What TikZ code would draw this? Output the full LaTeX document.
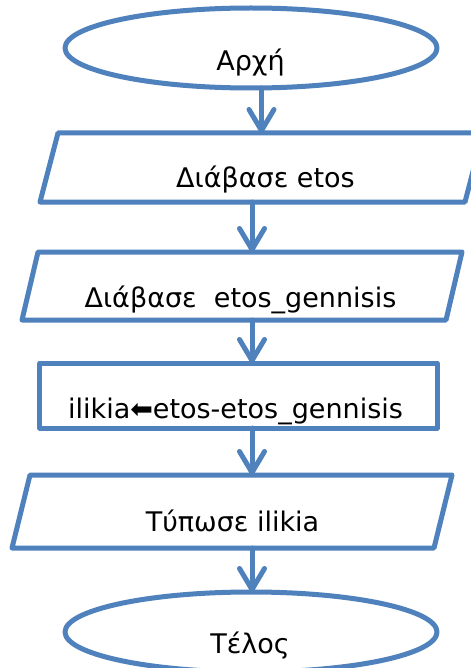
\documentclass[tikz,border=0pt]{standalone}
\usepackage{fontspec}
\setmainfont{DejaVu Sans}
\usetikzlibrary{shapes.geometric,arrows.meta}
\definecolor{blu}{RGB}{79,129,189}
\begin{document}
\begin{tikzpicture}[x=1bp,y=-1bp,
  ln/.style={draw=blu, line width=5bp, line join=round},
  frame/.style={inner sep=0, outer sep=0, draw=none},
  oval/.style={ellipse, ln, inner sep=0, outer sep=0, minimum width=372bp, minimum height=80bp},
  txt/.style={anchor=base, inner sep=0, font=\fontsize{27bp}{32bp}\selectfont, text=black},
  arr/.style={draw=blu, line width=5bp, line cap=round, -{Straight Barb[length=21bp,width=25bp,round]}}
]
\useasboundingbox (0,0) rectangle (471,668);
\fill[white] (0,0) rectangle (471,668);

% shapes
\node[oval] (e1) at (251,48) {};
\node[frame, minimum width=443bp, minimum height=69bp] (p1) at (261.5,167.5) {};
\node[frame, minimum width=440bp, minimum height=68bp] (p2) at (242,286) {};
\node[frame, ln, minimum width=397bp, minimum height=65bp] (r1) at (238.5,395.5) {};
\node[frame, minimum width=440bp, minimum height=73bp] (p3) at (232,511.5) {};
\node[oval] (e2) at (251,632) {};

\draw[ln] ([xshift=18bp]p1.north west) -- (p1.north east) -- ([xshift=-18bp]p1.south east) -- (p1.south west) -- cycle;
\draw[ln] ([xshift=16bp]p2.north west) -- (p2.north east) -- ([xshift=-16bp]p2.south east) -- (p2.south west) -- cycle;
\draw[ln] ([xshift=18bp]p3.north west) -- (p3.north east) -- ([xshift=-18bp]p3.south east) -- (p3.south west) -- cycle;

% texts
\node[txt] (t1) at (250.5,71) {Αρχή};
\node[txt] (t2) at (265.5,187) {Διάβασε etos};
\node[txt] (t3) at (240.5,307) {Διάβασε\ \ etos\_gennisis};
\node[txt] (t4) at (235.5,418) {ilikia⬅etos-etos\_gennisis};
\node[txt] (t5) at (232.5,531) {Τύπωσε ilikia};
\node[txt] (t6) at (250,653) {Τέλος};

% connectors
\coordinate (ax) at (252,0);
\draw[arr] (e1.south -| p1.north) -- (p1.north);
\draw[arr] (p1.south -| ax) -- (p2.north -| ax);
\draw[arr] (p2.south -| ax) -- (r1.north -| ax);
\draw[arr] (r1.south -| ax) -- (p3.north -| ax);
\draw[arr] (p3.south -| ax) -- (e2.north -| ax);
\end{tikzpicture}
\end{document}
